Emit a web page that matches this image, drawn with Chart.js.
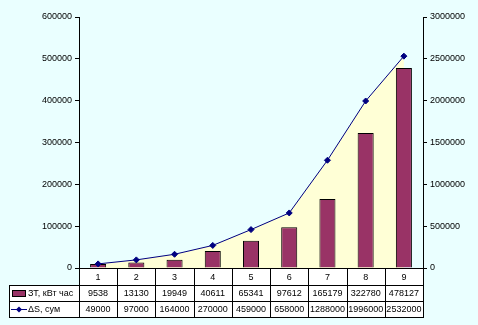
<!DOCTYPE html>
<html>
<head>
<meta charset="utf-8">
<script src="https://cdn.jsdelivr.net/npm/chart.js@4"></script>
<style>
  html, body { margin: 0; padding: 0; background: #eaffff; }
  #wrap { width: 478px; height: 325px; position: relative; }
</style>
</head>
<body>
<div id="wrap"><canvas id="c" width="478" height="325"></canvas></div>
<script>
const CATEGORIES = ['1', '2', '3', '4', '5', '6', '7', '8', '9'];
const ENERGY = [9538, 13130, 19949, 40611, 65341, 97612, 165179, 322780, 478127];
const SAVINGS = [49000, 97000, 164000, 270000, 459000, 658000, 1288000, 1996000, 2532000];
const SERIES_LABELS = ['ЗТ, кВт час', 'ΔS, сум'];

const BG = '#eaffff';
const BAR = '#993366';
const LINE = '#000080';
const FILL = '#ffffd6';
const FONT = '9px "Liberation Sans", Arial, sans-serif';

// rows of the data table under the plot
const ROW_TOP = 268, ROW1 = 285, ROW2 = 301, ROW3 = 317, TABLE_LEFT = 9;

const bgPlugin = {
    id: 'bg',
    beforeDraw(chart) {
        const ctx = chart.ctx;
        ctx.save();
        ctx.fillStyle = BG;
        ctx.fillRect(0, 0, chart.width, chart.height);
        ctx.restore();
    }
};

const tablePlugin = {
    id: 'table',
    afterDraw(chart) {
        const ctx = chart.ctx;
        const x = chart.scales.x;
        const area = chart.chartArea;
        const w = area.width / CATEGORIES.length;
        const L = Math.round(area.left), R = Math.round(area.right);
        ctx.save();
        ctx.fillStyle = '#ffffff';
        ctx.fillRect(L, ROW_TOP, R - L, ROW1 - ROW_TOP);
        ctx.fillRect(TABLE_LEFT, ROW1, R - TABLE_LEFT, ROW3 - ROW1);

        ctx.strokeStyle = '#000';
        ctx.lineWidth = 1;
        ctx.beginPath();
        // horizontal lines
        [ROW1, ROW2, ROW3].forEach(y => {
            ctx.moveTo(TABLE_LEFT, y + 0.5);
            ctx.lineTo(R + 1, y + 0.5);
        });
        ctx.moveTo(L, ROW_TOP + 0.5);
        ctx.lineTo(R + 1, ROW_TOP + 0.5);
        // vertical lines
        ctx.moveTo(TABLE_LEFT + 0.5, ROW1);
        ctx.lineTo(TABLE_LEFT + 0.5, ROW3 + 1);
        for (let i = 0; i <= CATEGORIES.length; i++) {
            const xx = Math.round(area.left + i * w) + 0.5;
            ctx.moveTo(xx, ROW_TOP);
            ctx.lineTo(xx, ROW3 + 1);
        }
        ctx.stroke();

        ctx.fillStyle = '#000';
        ctx.font = FONT;
        ctx.textAlign = 'center';
        ctx.textBaseline = 'middle';
        CATEGORIES.forEach((c, i) => {
            const cx = x.getPixelForValue(i);
            ctx.fillText(c, cx, (ROW_TOP + ROW1) / 2 + 1);
            ctx.fillText(String(ENERGY[i]), cx, (ROW1 + ROW2) / 2 + 1);
            ctx.fillText(String(SAVINGS[i]), cx, (ROW2 + ROW3) / 2 + 1);
        });

        // legend keys inside the table
        ctx.fillStyle = BAR;
        ctx.fillRect(12, 290, 14, 7);
        ctx.strokeRect(12.5, 290.5, 13, 6);
        ctx.strokeStyle = LINE;
        ctx.beginPath();
        ctx.moveTo(11, 309.5);
        ctx.lineTo(27, 309.5);
        ctx.stroke();
        ctx.fillStyle = LINE;
        ctx.beginPath();
        ctx.moveTo(19, 306.5);
        ctx.lineTo(22, 309.5);
        ctx.lineTo(19, 312.5);
        ctx.lineTo(16, 309.5);
        ctx.closePath();
        ctx.fill();

        ctx.fillStyle = '#000';
        ctx.textAlign = 'left';
        ctx.fillText(SERIES_LABELS[0], 28, (ROW1 + ROW2) / 2 + 1);
        ctx.fillText(SERIES_LABELS[1], 28, (ROW2 + ROW3) / 2 + 1);
        ctx.restore();
    }
};

const axisCommon = {
    border: { display: true, color: '#000', width: 1 },
    grid: { drawOnChartArea: false, drawTicks: true, tickLength: 4, color: '#000' },
};

const tickFont = { size: 9, family: '"Liberation Sans", Arial' };

new Chart(document.getElementById('c'), {
    data: {
        labels: CATEGORIES,
        datasets: [
            {
                type: 'line',
                label: SERIES_LABELS[1],
                data: SAVINGS,
                yAxisID: 'y1',
                borderColor: LINE,
                borderWidth: 1,
                backgroundColor: FILL,
                fill: 'origin',
                pointStyle: 'rectRot',
                pointRadius: 3,
                pointBackgroundColor: LINE,
                pointBorderColor: LINE,
                tension: 0,
                order: 0
            },
            {
                type: 'bar',
                label: SERIES_LABELS[0],
                data: ENERGY,
                yAxisID: 'y',
                backgroundColor: BAR,
                borderColor: '#000',
                borderWidth: 1,
                barPercentage: 0.42,
                categoryPercentage: 1,
                order: 1
            }
        ]
    },
    options: {
        responsive: false,
        animation: false,
        layout: { autoPadding: false, padding: { top: 17, bottom: 57, left: 0, right: 0 } },
        plugins: {
            legend: { display: false },
            tooltip: { enabled: false },
            filler: { drawTime: 'beforeDatasetsDraw' }
        },
        scales: {
            x: { type: 'category', display: false, offset: true },
            y: {
                ...axisCommon,
                position: 'left',
                min: 0, max: 600000,
                ticks: { stepSize: 100000, color: '#000', font: tickFont, padding: 3, callback: v => String(v) },
                afterFit(s) { s.width = 79; }
            },
            y1: {
                ...axisCommon,
                position: 'right',
                min: 0, max: 3000000,
                ticks: { stepSize: 500000, color: '#000', font: tickFont, padding: 3, callback: v => String(v) },
                afterFit(s) { s.width = 55; }
            }
        }
    },
    plugins: [bgPlugin, tablePlugin]
});
</script>
</body>
</html>
